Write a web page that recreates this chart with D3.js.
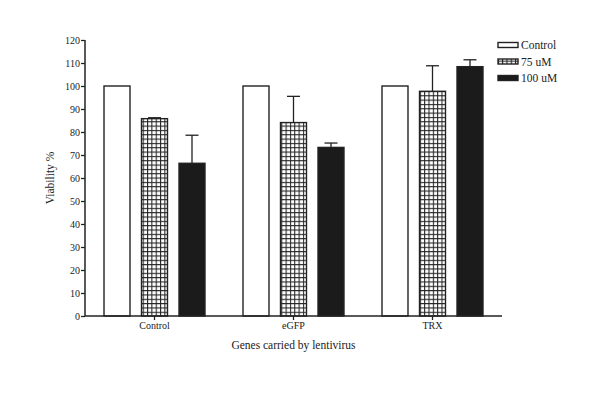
<!DOCTYPE html>
<html><head><meta charset="utf-8">
<script src="https://cdn.jsdelivr.net/npm/d3@7"></script>
<style>body{margin:0;background:#fff}svg{display:block}text{font-family:"Liberation Serif","Times New Roman",serif;fill:#222}</style>
</head><body><svg id="c" width="600" height="400"></svg>
<script>
const groups = ["Control", "eGFP", "TRX"];
const series = ["Control", "75 uM", "100 uM"];
const valControl = [100, 100, 100];
const val75 = [85.8, 84.1, 97.7];
const val100 = [66.4, 73.3, 108.4];
const err75 = [0.4, 11.4, 11.1];
const err100 = [12.2, 1.9, 3.0];
const errControl = [0, 0, 0];
const yTicks = [0,10,20,30,40,50,60,70,80,90,100,110,120];

const values = [valControl, val75, val100];
const errs = [errControl, err75, err100];

const svg = d3.select("#c");
const defs = svg.append("defs");
const pat = defs.append("pattern").attr("id","grid").attr("patternUnits","userSpaceOnUse")
  .attr("width",4.33).attr("height",4.33).attr("x",142.7).attr("y",0);
pat.append("rect").attr("width",4.33).attr("height",4.33).attr("fill","#fff");
pat.append("path").attr("d","M0,0.5H4.33M0.5,0V4.33").attr("stroke","#222").attr("stroke-width",1.1);

const x0 = d3.scaleBand().domain(groups).range([85, 502]).paddingInner(0).paddingOuter(0);
const y = d3.scaleLinear().domain([0,120]).range([316, 40]);
const x1 = d3.scaleBand().domain(series).range([-56.25, 56.25]).padding(0.307).paddingOuter(0.1535);

const fills = ["#fff", "url(#grid)", "#1b1b1b"];

groups.forEach((g, gi) => {
  const cx = x0(g) + x0.bandwidth()/2;
  series.forEach((s, si) => {
    const v = values[si][gi];
    const bx = cx + x1(s);
    const bw = x1.bandwidth();
    const e = errs[si][gi];
    if (e > 0) {
      const mx = bx + bw/2;
      svg.append("line").attr("x1",mx).attr("x2",mx).attr("y1",y(v)).attr("y2",y(v+e)).attr("stroke","#222").attr("stroke-width",1.3);
      svg.append("line").attr("x1",mx-6.5).attr("x2",mx+6.5).attr("y1",y(v+e)).attr("y2",y(v+e)).attr("stroke","#222").attr("stroke-width",1.3);
    }
    svg.append("rect").attr("x",bx).attr("y",y(v)).attr("width",bw).attr("height",y(0)-y(v))
      .attr("fill",fills[si]).attr("stroke","#222").attr("stroke-width",1.4);
  });
});

const yAxis = svg.append("g").attr("transform","translate(85,0)")
  .call(d3.axisLeft(y).tickValues(yTicks).tickSize(4).tickPadding(1));
const xAxis = svg.append("g").attr("transform","translate(0,316)")
  .call(d3.axisBottom(x0).tickSize(4).tickPadding(2).tickSizeOuter(0));
[yAxis, xAxis].forEach(a => {
  a.select(".domain").attr("stroke","#222").attr("stroke-width",1.5);
  a.selectAll(".tick line").attr("stroke","#222").attr("stroke-width",1.3);
  a.selectAll(".tick text").attr("font-family","Liberation Serif, serif").attr("font-size",10).attr("fill","#222");
});
yAxis.select(".domain").attr("d","M0,316V40");
xAxis.select(".domain").attr("d","M85,0H502");

svg.append("text").attr("x",293.5).attr("y",349).attr("text-anchor","middle").attr("font-size",11.5).text("Genes carried by lentivirus");
svg.append("text").attr("transform","translate(54,178) rotate(-90)").attr("text-anchor","middle").attr("font-size",11.5).text("Viability %");

const leg = svg.append("g");
series.forEach((s, i) => {
  const ly = 45 + i*16.5;
  leg.append("rect").attr("x",498).attr("y",ly-2.5).attr("width",20).attr("height",5)
    .attr("fill", i===1 ? "url(#grid)" : fills[i]).attr("stroke","#222").attr("stroke-width",1.4);
  leg.append("text").attr("x",521).attr("y",ly+4).attr("font-size",11.5).text(s);
});
</script></body></html>
